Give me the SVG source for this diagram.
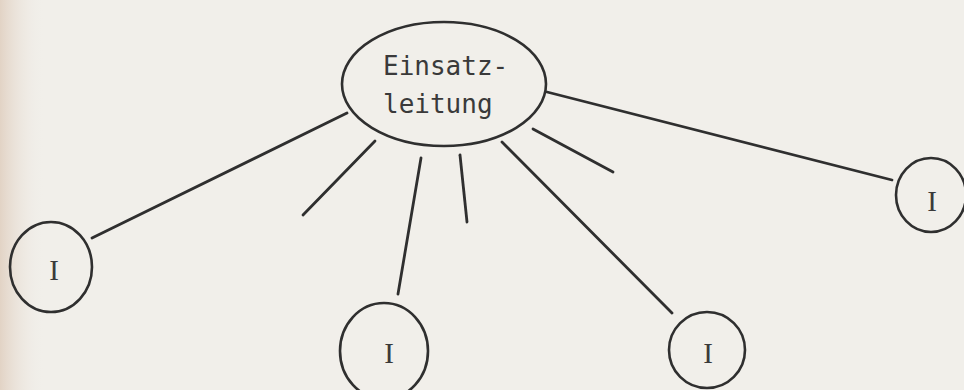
<svg xmlns="http://www.w3.org/2000/svg" width="964" height="390" viewBox="0 0 964 390">
  <defs>
    <linearGradient id="edge" x1="0" y1="0" x2="1" y2="0">
      <stop offset="0" stop-color="#e2d3c5"/>
      <stop offset="1" stop-color="#f1efea" stop-opacity="0"/>
    </linearGradient>
    <style>
      .node { fill: none; stroke: #2f2f2f; stroke-width: 2.6; }
      .edge { stroke: #2f2f2f; stroke-width: 2.8; stroke-linecap: round; fill: none; }
      .lbl { font-family: "DejaVu Sans Mono", "Liberation Mono", monospace; font-size: 26px; fill: #3a3a3a; }
      .roman { font-family: "Liberation Serif", "DejaVu Serif", serif; font-size: 29px; fill: #3a3a3a; text-anchor: middle; }
    </style>
  </defs>
  <rect width="964" height="390" fill="#f1efea"/>
  <rect width="45" height="390" fill="url(#edge)"/>

  <g id="connectors">
    <line class="edge" x1="347" y1="113" x2="92" y2="238"/>
    <line class="edge" x1="375" y1="141" x2="303" y2="215"/>
    <line class="edge" x1="421" y1="158" x2="398" y2="294"/>
    <line class="edge" x1="460" y1="155" x2="467" y2="222"/>
    <line class="edge" x1="502" y1="142" x2="672" y2="313"/>
    <line class="edge" x1="533" y1="129" x2="613" y2="172"/>
    <line class="edge" x1="547" y1="92" x2="892" y2="180"/>
  </g>

  <g id="einsatzleitung">
    <ellipse class="node" cx="444" cy="84" rx="102" ry="62"/>
    <text class="lbl" x="383" y="75">Einsatz-</text>
    <text class="lbl" x="383" y="113">leitung</text>
  </g>

  <g id="i-left">
    <ellipse class="node" cx="51" cy="267" rx="41" ry="45"/>
    <text class="roman" x="54" y="280">I</text>
  </g>

  <g id="i-bottom-left">
    <ellipse class="node" cx="384" cy="351" rx="44" ry="48"/>
    <text class="roman" x="389" y="363">I</text>
  </g>

  <g id="i-bottom-right">
    <ellipse class="node" cx="707" cy="350" rx="38" ry="38"/>
    <text class="roman" x="708" y="363">I</text>
  </g>

  <g id="i-right">
    <ellipse class="node" cx="931" cy="195" rx="35" ry="37"/>
    <text class="roman" x="932" y="211">I</text>
  </g>
</svg>
